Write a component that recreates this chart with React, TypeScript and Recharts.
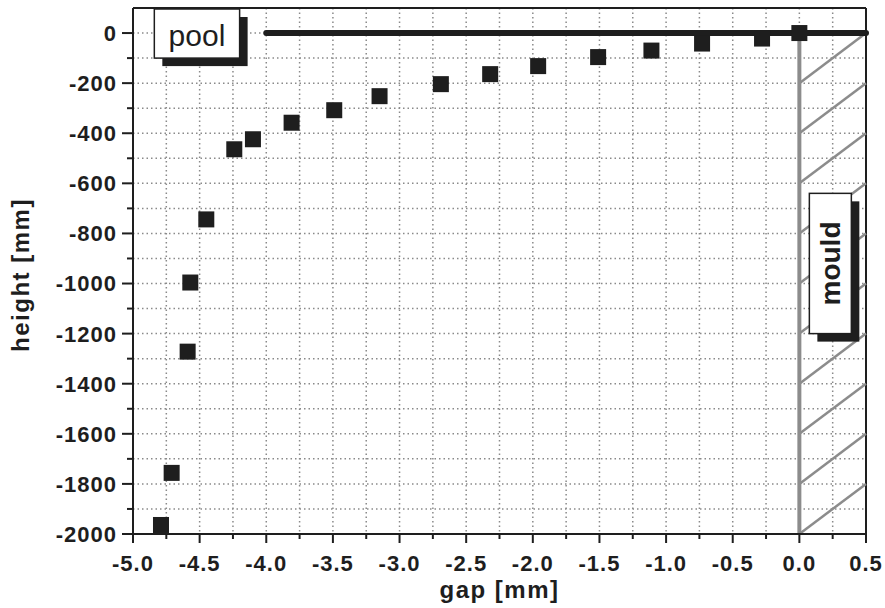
import React from 'react'
import {
  ScatterChart,
  Scatter,
  XAxis,
  YAxis,
  CartesianGrid,
  ReferenceLine,
  ReferenceArea,
  Label,
} from 'recharts'

// gap [mm] vs height [mm]
const gapValues = [-4.79, -4.71, -4.59, -4.57, -4.45, -4.24, -4.1, -3.81, -3.49, -3.15, -2.69, -2.32, -1.96, -1.51, -1.11, -0.73, -0.28, 0]
const heightValues = [-1964, -1756, -1272, -996, -744, -464, -424, -358, -308, -252, -204, -164, -132, -96, -70, -42, -22, 0]

const xTicks = [-5, -4.75, -4.5, -4.25, -4, -3.75, -3.5, -3.25, -3, -2.75, -2.5, -2.25, -2, -1.75, -1.5, -1.25, -1, -0.75, -0.5, -0.25, 0, 0.25, 0.5]
const yTicks = [-2000, -1900, -1800, -1700, -1600, -1500, -1400, -1300, -1200, -1100, -1000, -900, -800, -700, -600, -500, -400, -300, -200, -100, 0]

// hatch segments of the mould wall: start height at gap 0, end height at gap 0.5
const hatchStarts = [-200, -400, -600, -800, -1000, -1200, -1400, -1600, -1800, -2000]
const hatchEnds = [0, -200, -400, -600, -800, -1000, -1200, -1400, -1600, -1800]

const points = gapValues.map((g, i) => ({ gap: g, height: heightValues[i] }))

const FONT = '"Liberation Sans", Arial, sans-serif'
const INK = '#1e1e1e'

const XTick = ({ x, y, payload }: any) => {
  const major = Math.abs(Math.round(payload.value * 4)) % 2 === 0
  return (
    <g>
      <line x1={x} x2={x} y1={y} y2={y + (major ? 9 : 5)} stroke={INK} strokeWidth={2} />
      {major && (
        <text x={x} y={y + 37} textAnchor="middle" fontFamily={FONT} fontWeight="bold" fontSize={22} letterSpacing={1} fill={INK}>
          {payload.value.toFixed(1)}
        </text>
      )}
    </g>
  )
}

const YTick = ({ x, y, payload }: any) => {
  const major = Math.abs(payload.value) % 200 === 0
  return (
    <g>
      <line x1={x} x2={x - (major ? 11 : 6)} y1={y} y2={y} stroke={INK} strokeWidth={2} />
      {major && (
        <text x={x - 16} y={y} dy="0.36em" textAnchor="end" fontFamily={FONT} fontWeight="bold" fontSize={22} letterSpacing={1} fill={INK}>
          {payload.value}
        </text>
      )}
    </g>
  )
}

const Square = ({ cx, cy }: any) => (
  <rect x={cx - 8} y={cy - 8} width={16} height={16} fill={INK} />
)

const PoolBox = ({ x, y, width, height }: any) => (
  <g>
    <rect x={x + 8} y={y + 8} width={width} height={height} fill={INK} />
    <rect x={x} y={y} width={width} height={height} fill="#fff" stroke={INK} strokeWidth={1.5} />
    <text x={x + width / 2} y={y + 37} textAnchor="middle" fontFamily={FONT} fontSize={30} fill={INK}>
      pool
    </text>
  </g>
)

const MouldBox = ({ x, y, width, height }: any) => {
  const tx = x + width / 2 + 10
  const ty = y + height / 2
  return (
    <g>
      <rect x={x + 8} y={y + 8} width={width} height={height} fill={INK} />
      <rect x={x} y={y} width={width} height={height} fill="#fff" stroke={INK} strokeWidth={1.5} />
      <text x={tx} y={ty} textAnchor="middle" fontFamily={FONT} fontWeight="bold" fontSize={28} fill={INK} transform={`rotate(-90 ${tx} ${ty})`}>
        mould
      </text>
    </g>
  )
}

export default function App() {
  return (
    <div style={{ position: 'absolute', left: 0, top: 0, background: '#fff' }}>
      <ScatterChart width={885} height={608} margin={{ top: 8, right: 19, bottom: 0, left: 0 }}>
        <CartesianGrid stroke="#8a8a8a" strokeWidth={1.5} strokeDasharray="1.5 3" />
        <XAxis
          dataKey="gap"
          type="number"
          domain={[-5, 0.5]}
          allowDataOverflow
          ticks={xTicks}
          interval={0}
          height={74}
          tickSize={0}
          tickMargin={0}
          tickLine={false}
          axisLine={{ stroke: INK, strokeWidth: 2 }}
          tick={<XTick />}
        >
          <Label
            content={({ viewBox }: any) => (
              <text
                x={viewBox.x + viewBox.width / 2}
                y={viewBox.y + 64}
                textAnchor="middle"
                fontFamily={FONT}
                fontWeight="bold"
                fontSize={24}
                letterSpacing={1.5}
                fill={INK}
              >
                gap [mm]
              </text>
            )}
          />
        </XAxis>
        <YAxis
          dataKey="height"
          type="number"
          domain={[-2000, 100]}
          allowDataOverflow
          ticks={yTicks}
          interval={0}
          width={133}
          tickSize={0}
          tickMargin={0}
          tickLine={false}
          axisLine={{ stroke: INK, strokeWidth: 2 }}
          tick={<YTick />}
        >
          <Label
            content={({ viewBox }: any) => {
              const lx = 29
              const ly = viewBox.y + viewBox.height / 2 + 4
              return (
                <text
                  x={lx}
                  y={ly}
                  textAnchor="middle"
                  fontFamily={FONT}
                  fontWeight="bold"
                  fontSize={24}
                  letterSpacing={1.5}
                  fill={INK}
                  transform={`rotate(-90 ${lx} ${ly})`}
                >
                  height [mm]
                </text>
              )
            }}
          />
        </YAxis>

        {/* frame */}
        <ReferenceLine y={100} stroke={INK} strokeWidth={2} />
        <ReferenceLine x={0.5} stroke={INK} strokeWidth={2} />

        {/* mould wall hatch */}
        {hatchStarts.map((v, i) => (
          <ReferenceLine
            key={`h-${i}`}
            segment={[{ x: 0, y: v }, { x: 0.5, y: hatchEnds[i] }]}
            stroke="#8c8c8c"
            strokeWidth={2.5}
          />
        ))}
        <ReferenceLine segment={[{ x: 0, y: 0 }, { x: 0, y: -2000 }]} stroke="#8c8c8c" strokeWidth={4} />
        <ReferenceLine segment={[{ x: -4, y: 0 }, { x: 0.5, y: 0 }]} stroke={INK} strokeWidth={6} strokeLinecap="round" />

        <ReferenceArea x1={-4.84} x2={-4.2} y1={-100} y2={96} shape={<PoolBox />} zIndex={1500} />
        <ReferenceArea x1={0.075} x2={0.39} y1={-1200} y2={-640} shape={<MouldBox />} zIndex={1500} />

        <Scatter data={points} shape={<Square />} isAnimationActive={false} zIndex={1600} />
      </ScatterChart>
    </div>
  )
}
